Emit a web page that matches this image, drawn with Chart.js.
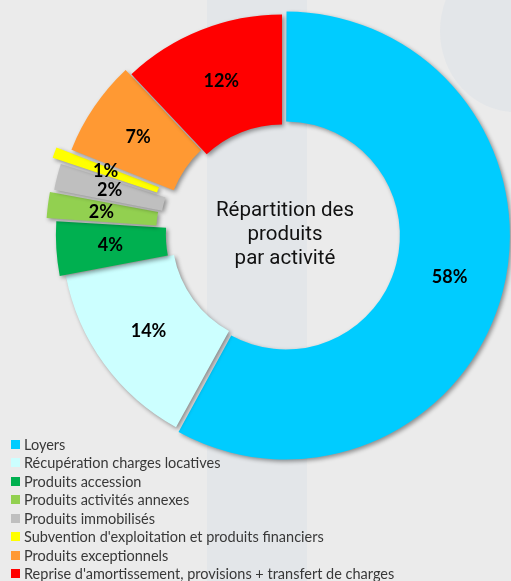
<!DOCTYPE html>
<html>
<head>
<meta charset="utf-8">
<script src="https://cdn.jsdelivr.net/npm/chart.js@4.4.1/dist/chart.umd.min.js"></script>
<style>
  html, body { margin: 0; padding: 0; }
  body { width: 511px; height: 581px; background: #ebebeb; position: relative; overflow: hidden; font-family: Lato, sans-serif; }
  #band { position: absolute; left: 207px; top: 0; width: 100px; height: 581px; background: #e3e6e9; }
  #oval { position: absolute; left: 440px; top: -50px; width: 150px; height: 162px; border-radius: 50%; background: #e3e6e9; }
  #chart { position: absolute; left: 0; top: 0; }
  #legend { position: absolute; left: 11px; top: 435px; margin: 0; padding: 0; list-style: none; font-size: 14.5px; color: #383838; }
  #legend li { height: 18.5px; display: flex; align-items: center; white-space: nowrap; }
  #legend i { display: inline-block; width: 9px; height: 9px; margin-right: 4px; }
</style>
</head>
<body>
<div id="band"></div>
<div id="oval"></div>
<canvas id="chart" width="511" height="581"></canvas>
<ul id="legend"></ul>
<script>
// Slices, clockwise from 12 o'clock
const labels = [
  'Loyers',
  'Récupération charges locatives',
  'Produits accession',
  'Produits activités annexes',
  'Produits immobilisés',
  "Subvention d'exploitation et produits financiers",
  'Produits exceptionnels',
  "Reprise d'amortissement, provisions + transfert de charges"
];
const values = [58, 14, 4, 2, 2, 1, 7, 12];
const colors = ['#00ccff', '#ccffff', '#00b050', '#92d050', '#bfbfbf', '#ffff00', '#ff9933', '#ff0000'];
// how far each slice is pulled out of the ring
const offsets = [16, 0, 14, 34, 26, 45, 18, 0];
const centerTitle = ['Répartition des', 'produits', 'par activité'];

// legend built from the same arrays
const legendEl = document.getElementById('legend');
labels.forEach((label, i) => {
  const li = document.createElement('li');
  const box = document.createElement('i');
  box.style.background = colors[i];
  li.appendChild(box);
  li.appendChild(document.createTextNode(label));
  legendEl.appendChild(li);
});

// drop shadow under the slices, percent labels, title in the hole
const sliceDecor = {
  id: 'sliceDecor',
  beforeDatasetsDraw(chart) {
    const ctx = chart.ctx;
    ctx.save();
    ctx.shadowColor = 'rgba(0, 0, 0, 0.4)';
    ctx.shadowBlur = 4;
    ctx.shadowOffsetX = 2;
    ctx.shadowOffsetY = 2;
  },
  afterDatasetsDraw(chart) {
    const ctx = chart.ctx;
    ctx.restore();
    const meta = chart.getDatasetMeta(0);
    const total = values.reduce((a, b) => a + b, 0);

    ctx.save();
    ctx.fillStyle = '#000';
    ctx.textAlign = 'center';
    ctx.textBaseline = 'middle';
    ctx.font = 'bold 18px Lato';
    meta.data.forEach((arc, i) => {
      const p = arc.getCenterPoint();
      ctx.fillText(Math.round(values[i] / total * 100) + '%', p.x, p.y);
    });

    const c = meta.data[0];
    ctx.fillStyle = '#111';
    ctx.textBaseline = 'alphabetic';
    ctx.font = '20.5px Roboto';
    centerTitle.forEach((line, i) => {
      ctx.fillText(line, c.x + 3, c.y - 19 + i * 24);
    });
    ctx.restore();
  }
};

new Chart(document.getElementById('chart'), {
  type: 'doughnut',
  data: {
    labels,
    datasets: [{
      data: values,
      backgroundColor: colors,
      offset: offsets,
      borderWidth: 0,
      clip: false
    }]
  },
  options: {
    responsive: false,
    animation: false,
    devicePixelRatio: 1,
    radius: 220,
    cutout: '50%',
    layout: { padding: { left: 53, right: 0, top: 0, bottom: 112 } },
    plugins: {
      legend: { display: false },
      tooltip: { enabled: false }
    }
  },
  plugins: [sliceDecor]
});
</script>
</body>
</html>
